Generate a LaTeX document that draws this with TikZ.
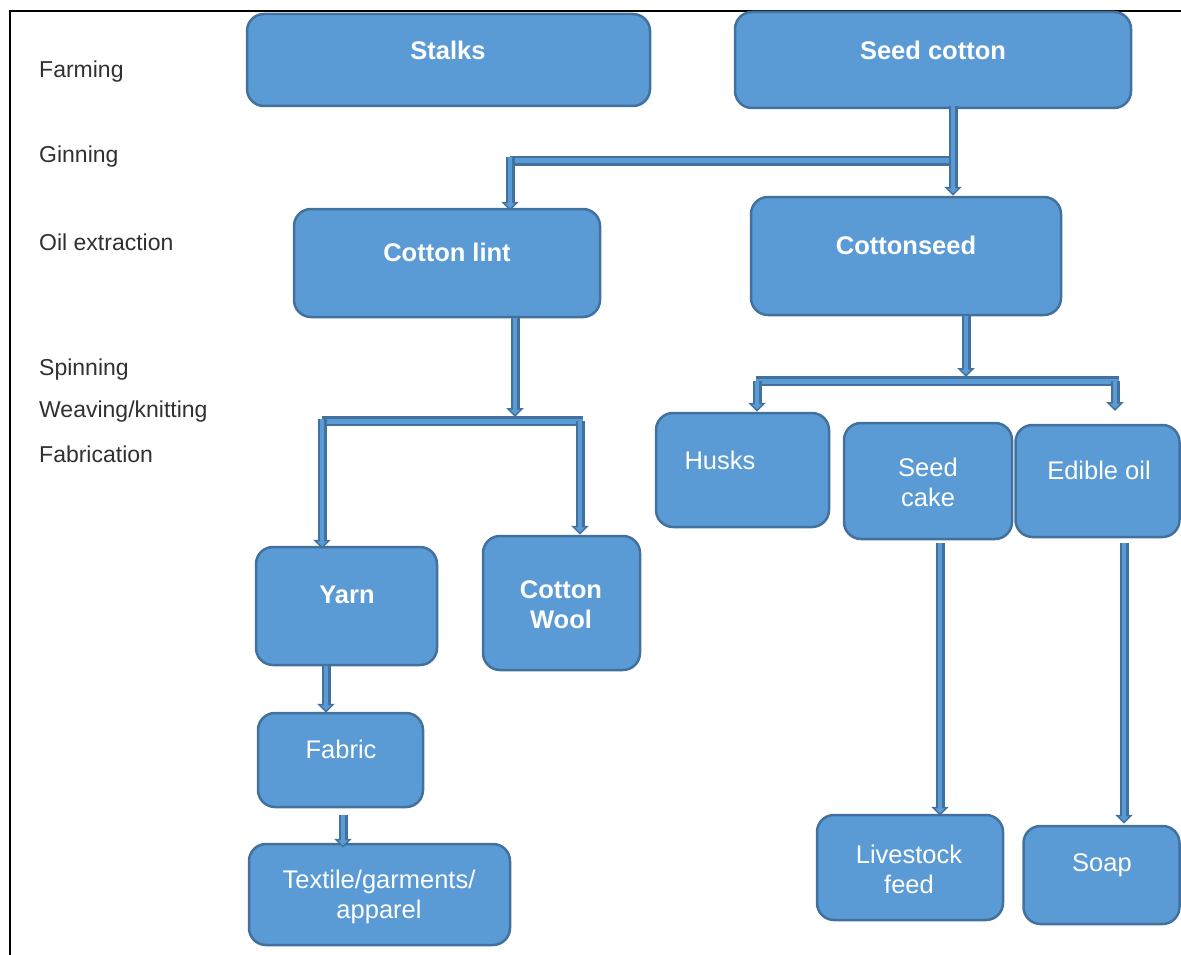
\documentclass[tikz,border=0pt]{standalone}
\usepackage{fontspec}
\setmainfont{Liberation Sans}
\usetikzlibrary{arrows.meta,calc}
\definecolor{boxfill}{HTML}{5B9BD5}
\definecolor{boxedge}{HTML}{41719C}
\definecolor{labelc}{HTML}{303030}
\tikzset{
  box/.style={draw=boxedge, fill=boxfill, line width=2.5pt, rounded corners=17pt, inner sep=0pt},
  btext/.style={text=white, align=center, font=\fontsize{25.5}{30}\selectfont},
  bbold/.style={btext, font=\fontsize{25.5}{30}\selectfont\bfseries},
  stage/.style={anchor=west, text=labelc, font=\fontsize{23}{27}\selectfont, inner sep=0pt},
  pipe/.style={draw=boxfill, line width=5pt,
    preaction={draw=boxedge, line width=9.5pt}},
  pipearrow/.style={draw=boxfill, line width=4.5pt, shorten >=2.5pt,
    -{Triangle[width=10pt,length=5pt]},
    preaction={draw=boxedge, line width=9pt, shorten >=0pt, -{Triangle[width=17pt,length=9pt]}}}
}
\begin{document}
\begin{tikzpicture}[x=1pt,y=-1pt]
\useasboundingbox (0,0) rectangle (1181,955);
% frame
\draw[line width=2pt, black] (10,955) -- (10,11) -- (1181,11);
% stage labels
\node[stage] (farming) at (39,72) {Farming};
\node[stage] (ginning) at (39,157) {Ginning};
\node[stage] (oilext) at (39,242) {Oil extraction};
\node[stage] (spinning) at (39,370) {Spinning};
\node[stage] (weaving) at (39,412) {Weaving/knitting};
\node[stage] (fabrication) at (39,454) {Fabrication};
% boxes
\node[box, minimum width=403, minimum height=92] (stalks) at (448.5,60) {};
\node[box, minimum width=396, minimum height=96] (seedcotton) at (933,60) {};
\node[box, minimum width=306, minimum height=108] (cottonlint) at (447,263) {};
\node[box, minimum width=310, minimum height=118] (cottonseed) at (906,256) {};
\node[box, minimum width=173, minimum height=114] (husks) at (742.5,470) {};
\node[box, minimum width=168, minimum height=116] (seedcake) at (928,481) {};
\node[box, minimum width=164, minimum height=112] (edibleoil) at (1097.5,481) {};
\node[box, minimum width=181, minimum height=118] (yarn) at (346.5,606) {};
\node[box, minimum width=157, minimum height=134] (wool) at (561.5,603) {};
\node[box, minimum width=165, minimum height=94] (fabric) at (340.5,760) {};
\node[box, minimum width=261, minimum height=101] (textile) at (379.5,894.5) {};
\node[box, minimum width=186, minimum height=105] (livestock) at (910,867.5) {};
\node[box, minimum width=156, minimum height=98] (soap) at (1101.5,875) {};
% box texts
\node[bbold] (t-stalks) at (448,50) {Stalks};
\node[bbold] (t-seedcotton) at (933,50) {Seed cotton};
\node[bbold] (t-cottonlint) at (447,252) {Cotton lint};
\node[bbold] (t-cottonseed) at (906,245) {Cottonseed};
\node[btext] (t-husks) at (720,460) {Husks};
\node[btext] (t-seedcake) at (928,482) {Seed\\cake};
\node[btext] (t-edibleoil) at (1099,470) {Edible oil};
\node[bbold] (t-yarn) at (347,595) {Yarn};
\node[bbold] (t-wool) at (561,605) {Cotton\\Wool};
\node[btext] (t-fabric) at (341,749) {Fabric};
\node[btext] (t-textile) at (379,897) {Textile/garments/\\apparel};
\node[btext] (t-livestock) at (909,869) {Livestock\\feed};
\node[btext] (t-soap) at (1102,865) {Soap};
% junction coordinates
\coordinate (g1) at (953,161);
\coordinate (g2) at (510,161);
\coordinate (s1) at (515,417);
\coordinate (s2) at (322,421);
\coordinate (s3) at (583,421);
\coordinate (s4) at (580,421);
\coordinate (o1) at (966,377);
\coordinate (o2) at (756,381);
\coordinate (o3) at (1119,381);
\coordinate (o4) at (757,381);
\coordinate (o5) at (1115,381);
\coordinate (o6) at (1115,411);
\coordinate (f1) at (343,815);
\coordinate (y1) at (326,0);
\coordinate (k1) at (940,0);
\coordinate (e1) at (1124,0);
% connectors
\draw[pipe] (g2) -- (g1);
\draw[pipearrow] ($(seedcotton.south -| g1)+(0,-3)$) -- (cottonseed.north -| g1);
\draw[pipearrow] ($(g2)+(0,-4)$) -- ($(cottonlint.north -| g2)+(0,3)$);
\draw[pipe] (s2) -- (s3);
\draw[pipearrow] (cottonlint.south -| s1) -- (s1);
\draw[pipearrow] ($(s2)+(0,-2)$) -- ($(yarn.north -| s2)+(0,3)$);
\draw[pipearrow] (s4) -- (wool.north -| s4);
\draw[pipe] (o2) -- (o3);
\draw[pipearrow] (cottonseed.south -| o1) -- (o1);
\draw[pipearrow] (o4) -- (husks.north -| o4);
\draw[pipearrow] (o5) -- (o6);
\draw[pipearrow] (yarn.south -| y1) -- ($(fabric.north -| y1)+(0,1)$);
\draw[pipearrow] (f1) -- ($(textile.north -| f1)+(0,5)$);
\draw[pipearrow] ($(seedcake.south -| k1)+(0,3)$) -- ($(livestock.north -| k1)+(0,2)$);
\draw[pipearrow] ($(edibleoil.south -| e1)+(0,5)$) -- ($(soap.north -| e1)+(0,-1)$);
\end{tikzpicture}
\end{document}
